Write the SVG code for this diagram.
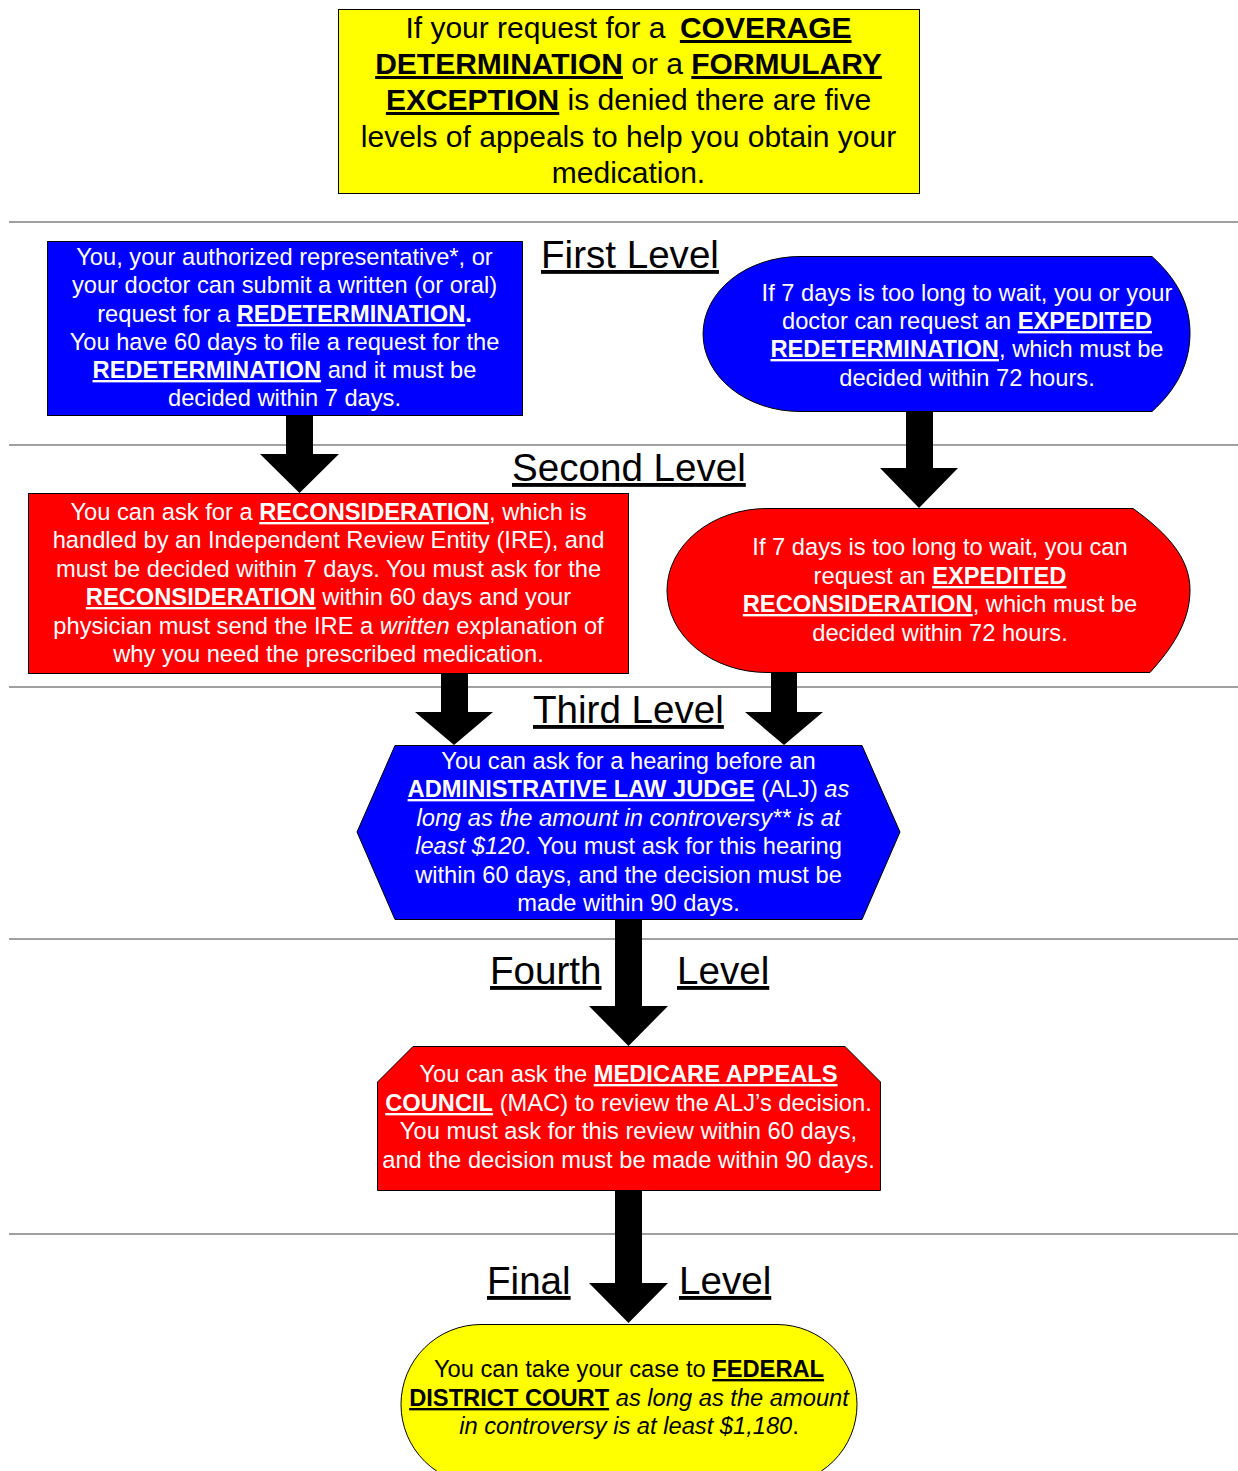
<svg xmlns="http://www.w3.org/2000/svg" width="1238" height="1471" viewBox="0 0 1238 1471">
<style>
text{font-family:"Liberation Sans",Arial,sans-serif;}
.t{font-size:23.7px;text-anchor:middle;}
.w{fill:#fff;}
.k{fill:#000;}
.b{font-weight:bold;text-decoration:underline;}
.bn{font-weight:bold;}
.i{font-style:italic;}
.top{font-size:30px;text-anchor:middle;fill:#000;}
.lvl{font-size:38.6px;fill:#000;text-decoration:underline;}
.sep{stroke:#808080;stroke-width:1.3;}
.shape{stroke:#000;stroke-width:1;}
.arrow{fill:#000;}
</style>
<rect width="1238" height="1471" fill="#fff"/>
<g id="separators">
<line class="sep" x1="9" y1="222" x2="1238" y2="222"/>
<line class="sep" x1="9" y1="445" x2="1238" y2="445"/>
<line class="sep" x1="9" y1="687" x2="1238" y2="687"/>
<line class="sep" x1="9" y1="939" x2="1238" y2="939"/>
<line class="sep" x1="9" y1="1234" x2="1238" y2="1234"/>
</g>
<g id="level-labels">
<text class="lvl" x="541" y="268">First Level</text>
<text class="lvl" x="512" y="481">Second Level</text>
<text class="lvl" x="533" y="723">Third Level</text>
<text class="lvl" x="490" y="984">Fourth</text>
<text class="lvl" x="677" y="984">Level</text>
<text class="lvl" x="487" y="1294">Final</text>
<text class="lvl" x="679" y="1294">Level</text>
</g>
<g id="connectors">
<polygon class="arrow" points="286,415 313,415 313,454 339,454 299.5,493 260,454 286,454"/>
<polygon class="arrow" points="906,411 933,411 933,468 958,468 919,508 880,468 906,468"/>
<polygon class="arrow" points="441,673 468,673 468,712 493,712 454,745 415,712 441,712"/>
<polygon class="arrow" points="771,672 797,672 797,712 823,712 784,745 745,712 771,712"/>
<polygon class="arrow" points="615,919 642,919 642,1006 668,1006 628.5,1046 589,1006 615,1006"/>
<polygon class="arrow" points="615,1190 642,1190 642,1283 668,1283 628.5,1323 589,1283 615,1283"/>
</g>
<g id="intro">
<rect class="shape" x="338.5" y="9.5" width="581" height="184" fill="#ffff00"/>
<text class="top" x="628.5" y="38">If your request for a <tspan dx="6" class="b">COVERAGE</tspan></text>
<text class="top" x="628.5" y="74"><tspan class="b">DETERMINATION</tspan> or a <tspan class="b">FORMULARY</tspan></text>
<text class="top" x="628.5" y="110"><tspan class="b">EXCEPTION</tspan> is denied there are five</text>
<text class="top" x="628.5" y="147">levels of appeals to help you obtain your</text>
<text class="top" x="628.5" y="183">medication.</text>
</g>
<g id="redetermination">
<rect class="shape" x="47.5" y="241.5" width="475" height="174" fill="#0000ff"/>
<text class="t w" x="284.5" y="265">You, your authorized representative*, or</text>
<text class="t w" x="284.5" y="293">your doctor can submit a written (or oral)</text>
<text class="t w" x="284.5" y="322">request for a <tspan class="b">REDETERMINATION</tspan><tspan class="bn">.</tspan></text>
<text class="t w" x="284.5" y="350">You have 60 days to file a request for the</text>
<text class="t w" x="284.5" y="378"><tspan class="b">REDETERMINATION</tspan> and it must be</text>
<text class="t w" x="284.5" y="406">decided within 7 days.</text>
</g>
<g id="expedited-redetermination">
<path class="shape" fill="#0000ff" d="M800,256.5 L1152,256.5 C1178,280 1190,305 1190,333 C1190,362 1178,388 1152,411.5 L800,411.5 A97,77.5 0 0 1 800,256.5 Z"/>
<text class="t w" x="967" y="301">If 7 days is too long to wait, you or your</text>
<text class="t w" x="967" y="329">doctor can request an <tspan class="b">EXPEDITED</tspan></text>
<text class="t w" x="967" y="357"><tspan class="b">REDETERMINATION</tspan>, which must be</text>
<text class="t w" x="967" y="386">decided within 72 hours.</text>
</g>
<g id="reconsideration">
<rect class="shape" x="28.5" y="493.5" width="600" height="180" fill="#ff0000"/>
<text class="t w" x="328.5" y="520">You can ask for a <tspan class="b">RECONSIDERATION</tspan>, which is</text>
<text class="t w" x="328.5" y="548">handled by an Independent Review Entity (IRE), and</text>
<text class="t w" x="328.5" y="577">must be decided within 7 days. You must ask for the</text>
<text class="t w" x="328.5" y="605"><tspan class="b">RECONSIDERATION</tspan> within 60 days and your</text>
<text class="t w" x="328.5" y="634">physician must send the IRE a <tspan class="i">written</tspan> explanation of</text>
<text class="t w" x="328.5" y="662">why you need the prescribed medication.</text>
</g>
<g id="expedited-reconsideration">
<path class="shape" fill="#ff0000" d="M767,508.5 L1133,508.5 C1170,535 1190,560 1190,590 C1190,622 1172,648 1150,672.5 L767,672.5 A100,82 0 0 1 767,508.5 Z"/>
<text class="t w" x="940" y="555">If 7 days is too long to wait, you can</text>
<text class="t w" x="940" y="584">request an <tspan class="b">EXPEDITED</tspan></text>
<text class="t w" x="940" y="612"><tspan class="b">RECONSIDERATION</tspan>, which must be</text>
<text class="t w" x="940" y="641">decided within 72 hours.</text>
</g>
<g id="alj-hearing">
<polygon class="shape" fill="#0000ff" points="395,745.5 862,745.5 900,832 862,919.5 395,919.5 357,832"/>
<text class="t w" x="628.5" y="769">You can ask for a hearing before an</text>
<text class="t w" x="628.5" y="797"><tspan class="b">ADMINISTRATIVE LAW JUDGE</tspan> (ALJ) <tspan class="i">as</tspan></text>
<text class="t w i" x="628.5" y="826">long as the amount in controversy** is at</text>
<text class="t w" x="628.5" y="854"><tspan class="i">least $120</tspan>. You must ask for this hearing</text>
<text class="t w" x="628.5" y="883">within 60 days, and the decision must be</text>
<text class="t w" x="628.5" y="911">made within 90 days.</text>
</g>
<g id="appeals-council">
<polygon class="shape" fill="#ff0000" points="413,1046.5 845,1046.5 880.5,1082 880.5,1190.5 377.5,1190.5 377.5,1082"/>
<text class="t w" x="628.5" y="1082">You can ask the <tspan class="b">MEDICARE APPEALS</tspan></text>
<text class="t w" x="628.5" y="1111"><tspan class="b">COUNCIL</tspan> (MAC) to review the ALJ’s decision.</text>
<text class="t w" x="628.5" y="1139">You must ask for this review within 60 days,</text>
<text class="t w" x="628.5" y="1168">and the decision must be made within 90 days.</text>
</g>
<g id="federal-court">
<rect class="shape" x="401" y="1324.5" width="456" height="160" rx="80" ry="80" fill="#ffff00"/>
<text class="t k" x="629" y="1377">You can take your case to <tspan class="b">FEDERAL</tspan></text>
<text class="t k" x="629" y="1406"><tspan class="b">DISTRICT COURT</tspan> <tspan class="i">as long as the amount</tspan></text>
<text class="t k" x="629" y="1434"><tspan class="i">in controversy is at least $1,180</tspan>.</text>
</g>
</svg>
